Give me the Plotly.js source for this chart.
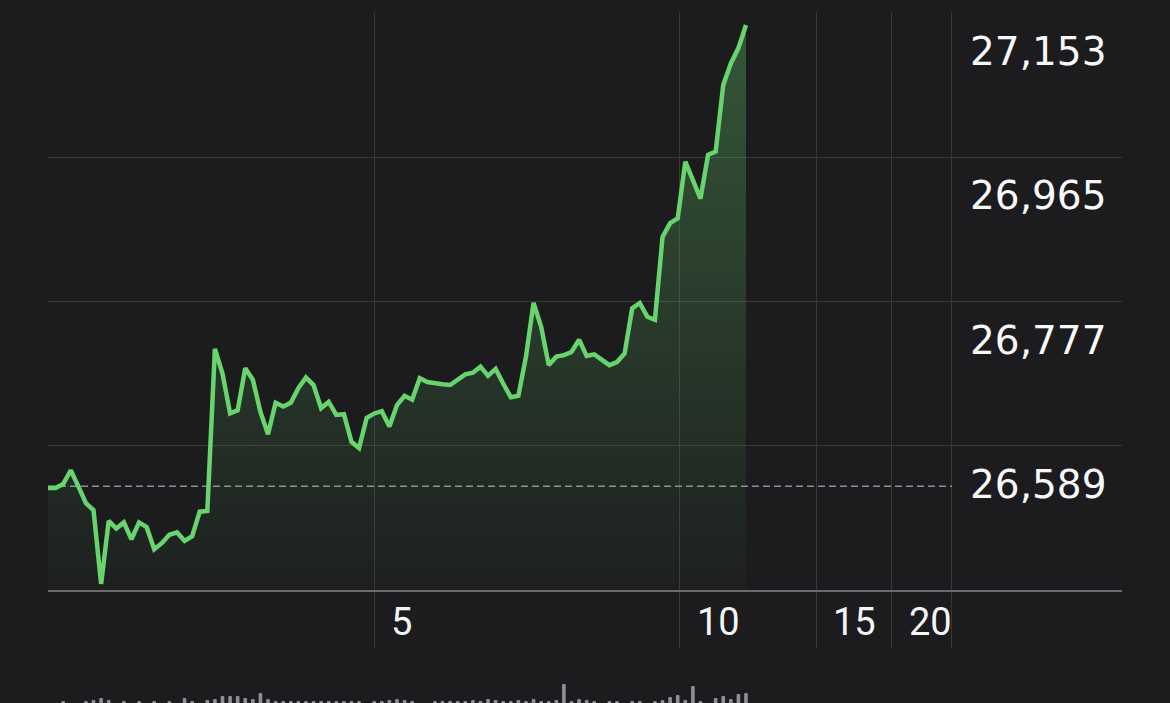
<!DOCTYPE html>
<html>
<head>
<meta charset="utf-8">
<script src="https://cdn.plot.ly/plotly-3.0.1.min.js"></script>
<style>
  html, body { margin: 0; padding: 0; background: #1c1c1e; }
  #chart { width: 1170px; height: 703px; }
</style>
</head>
<body>
<div id="chart"></div>
<script>
// ---- data ----
const prices = [26587,26587,26592,26610,26589,26567,26558,26462,26544,26534,
  26542,26520,26542,26536,26507,26515,26526,26529,26518,26524,
  26556,26557,26768,26736,26684,26688,26743,26728,26686,26657,
  26698,26693,26698,26717,26731,26721,26691,26699,26682,26683,
  26647,26639,26678,26684,26687,26667,26695,26707,26702,26730,
  26725,26723,26722,26721,26728,26735,26737,26745,26733,26742,
  26723,26705,26707,26758,26828,26797,26747,26758,26760,26764,
  26780,26759,26761,26754,26747,26751,26762,26821,26828,26810,
  26806,26914,26932,26938,27012,26988,26964,27021,27025,27112,
  27140,27160,27190];
const volumes = [0,0,2,0,0,2,3,5,3,0, 2,0,2,0,2,0,2,0,5,2,
  0,3,4,7,7,7,5,4,10,4, 2,2,2,2,2,2,2,2,2,2,
  2,2,0,2,2,3,4,3,2,0, 0,2,2,2,2,2,3,2,4,3,
  2,2,3,2,4,2,2,3,19,2, 4,3,2,0,2,2,0,2,2,0,
  2,3,6,8,3,17,2,0,5,7, 4,9,10];
const prevClose = 26589;
const sessionEnd = 119.15;            // end of the trading session (x units)
const xTickVals = [42.97, 83.30, 101.23, 111.24];
const xTickLabels = ['5', '10', '15', '20'];
const yLabelVals = [27153, 26965, 26777, 26589];
const yGridVals = [26642, 26830, 27018, 27206];
const yRange = [26454, 27207];
const xRange = [0, 141.56];
const volRange = [0, 27.6];

const steps = prices.map((_, i) => i);

const GREEN = '#68d46d';
const GRID = '#38383b';
const BG = '#1c1c1e';

const traces = [
  {
    x: [0, sessionEnd], y: [prevClose, prevClose],
    type: 'scatter', mode: 'lines',
    line: { color: '#8e8e93', width: 1.5, dash: '7px,4px' },
    hoverinfo: 'skip', xaxis: 'x', yaxis: 'y'
  },
  {
    x: steps, y: prices,
    type: 'scatter', mode: 'lines',
    line: { color: GREEN, width: 4.5 },
    fill: 'tozeroy',
    fillgradient: {
      type: 'vertical',
      start: yRange[0], stop: prices[prices.length - 1],
      colorscale: [[0, 'rgba(104,212,109,0.02)'], [1, 'rgba(104,212,109,0.32)']]
    },
    hoverinfo: 'skip', xaxis: 'x', yaxis: 'y'
  },
  {
    x: steps, y: volumes,
    type: 'bar', width: 0.48,
    marker: { color: '#8e8e93', cornerradius: 2 },
    hoverinfo: 'skip', xaxis: 'x2', yaxis: 'y2'
  }
];

const mainBottom = (703 - 590) / 691;

const annotations = [];
xTickVals.forEach((v, i) => {
  annotations.push({
    x: v, xref: 'x', y: 0.1179, yref: 'paper',
    text: xTickLabels[i], showarrow: false,
    xanchor: 'left', yanchor: 'middle', xshift: 15,
    font: { family: 'Roboto, "Liberation Sans", sans-serif', size: 38, color: '#f5f5f7' }
  });
});
yLabelVals.forEach(v => {
  annotations.push({
    x: (968 - 48) / 1074, xref: 'paper', y: v, yref: 'y',
    text: v.toLocaleString('en-US'), showarrow: false,
    xanchor: 'left', yanchor: 'middle', yshift: 2,
    font: { family: '"DejaVu Sans", sans-serif', size: 39, color: '#f8f8fa' }
  });
});

const layout = {
  width: 1170, height: 703,
  margin: { l: 48, r: 48, t: 12, b: 0, pad: 0 },
  paper_bgcolor: BG, plot_bgcolor: BG,
  showlegend: false,
  bargap: 0.5,
  xaxis: {
    range: xRange, anchor: 'y',
    tickmode: 'array', tickvals: xTickVals.concat([sessionEnd]),
    showticklabels: false,
    ticks: 'outside', ticklen: 56, tickcolor: GRID, tickwidth: 1,
    showgrid: true, gridcolor: GRID, gridwidth: 1,
    zeroline: false,
    showline: true, linecolor: '#6c6c70', linewidth: 2
  },
  yaxis: {
    domain: [mainBottom, 1], range: yRange,
    tickmode: 'array', tickvals: yGridVals,
    showticklabels: false, ticks: '',
    showgrid: true, gridcolor: GRID, gridwidth: 1,
    zeroline: false, showline: false
  },
  xaxis2: { matches: 'x', anchor: 'y2', visible: false, showgrid: false, zeroline: false },
  yaxis2: { domain: [0, 0.04], range: volRange, visible: false, showgrid: false, zeroline: false },
  annotations: annotations
};

Plotly.newPlot('chart', traces, layout, { displayModeBar: false, staticPlot: true });
</script>
</body>
</html>
